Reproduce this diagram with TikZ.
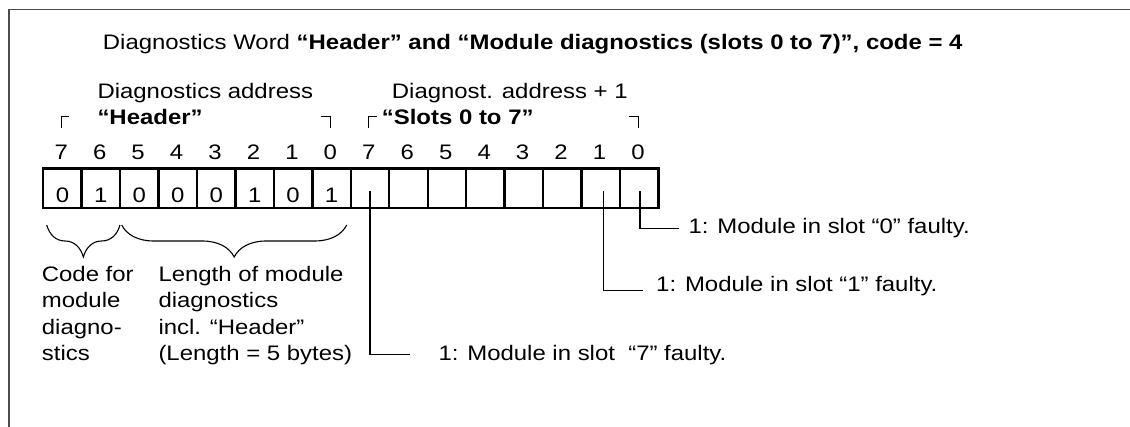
\documentclass[tikz,border=0pt]{standalone}
\usepackage{fontspec}
\setmainfont{Liberation Sans}[FakeStretch=1.14]
\usetikzlibrary{decorations.pathreplacing}
\begin{document}
\begin{tikzpicture}[x=1pt,y=-1pt,
  lbl/.style={inner sep=0pt, anchor=base west, font=\fontsize{21}{26.2}\selectfont},
  bitbox/.style={draw, line width=2.4pt, minimum width=38.45pt, minimum height=39.5pt,
    inner sep=0pt, anchor=north west, text height=32pt, text depth=3pt,
    font=\fontsize{21}{26}\selectfont},
  conn/.style={line width=1.3pt},
  corner/.style={line width=1.1pt},
  bracestyle/.style={line width=1.1pt, decorate, decoration={brace, mirror, amplitude=32pt}},
  frame/.style={line width=1.7pt, black!70}
]
\useasboundingbox (0,0) rectangle (1130,427);
\draw[frame] (9,427) -- (9,9.5) -- (1130,9.5);

\node[lbl] (title) at (102.7,50) {Diagnostics Word \textbf{“Header” and “Module diagnostics (slots 0 to 7)”, code = 4}};

\node[lbl] (addr) at (97.3,98.3) {Diagnostics address};
\node[lbl] (hdr) at (97.3,125) {\textbf{“Header”}};
\node[lbl] (addr1) at (391.7,98.3) {Diagnost. address + 1};
\node[lbl] (slots) at (381.7,125) {\textbf{“Slots 0 to 7”}};

% corner marks
\draw[corner] (61.2,128.3) |- (69,116.7);
\draw[corner] (320.5,116.7) -| (330.4,128.3);
\draw[corner] (368.8,128.3) |- (376.5,116.7);
\draw[corner] (628.5,116.7) -| (638.1,128.3);

% bit numbers
\foreach \i [evaluate=\i as \nb using {int(7-mod(\i,8))}] in {0,...,15}
  \node[lbl, anchor=base] (n\i) at ({42+38.45*(\i+0.5)},160) {\nb};

% bit boxes
\foreach \i/\v in {0/0,1/1,2/0,3/0,4/0,5/1,6/0,7/1}
  \node[bitbox] (b\i) at ({42+38.45*\i},167.5) {\v};
\foreach \i in {8,...,15}
  \node[bitbox] (b\i) at ({42+38.45*\i},167.5) {};

% braces
\coordinate (br1a) at (46.7,225);
\coordinate (br1b) at (120,225);
\coordinate (br2a) at (121.7,225);
\coordinate (br2b) at (346.7,225);
\draw[bracestyle] (br1a) -- (br1b);
\draw[bracestyle] (br2a) -- (br2b);

% explanations below the braces
\node[lbl] (c1) at (41.7,281.7) {Code for};
\node[lbl] (c2) at (41.7,307.9) {module};
\node[lbl] (c3) at (41.7,334.1) {diagno-};
\node[lbl] (c4) at (41.7,360.3) {stics};
\node[lbl] (l1) at (158.3,281.7) {Length of module};
\node[lbl] (l2) at (158.3,307.9) {diagnostics};
\node[lbl] (l3) at (158.3,334.1) {incl. “Header”};
\node[lbl] (l4) at (158.3,360.3) {(Length = 5 bytes)};

% connectors
\coordinate (e7) at (410,354.3);
\coordinate (e1) at (642.7,290.7);
\coordinate (e0) at (679.3,228.3);
\draw[conn] ([yshift=-3pt]b8.center) |- (e7);
\draw[conn] ([xshift=2.5pt,yshift=-3pt]b14.center) |- (e1);
\draw[conn] ([xshift=0.8pt,yshift=-3pt]b15.center) |- (e0);

\node[lbl] (t7) at (438.3,361) {1: Module in slot\ \ “7” faulty.};
\node[lbl] (t1) at (656,292) {1: Module in slot “1” faulty.};
\node[lbl] (t0) at (688.3,233.3) {1: Module in slot “0” faulty.};
\end{tikzpicture}
\end{document}
